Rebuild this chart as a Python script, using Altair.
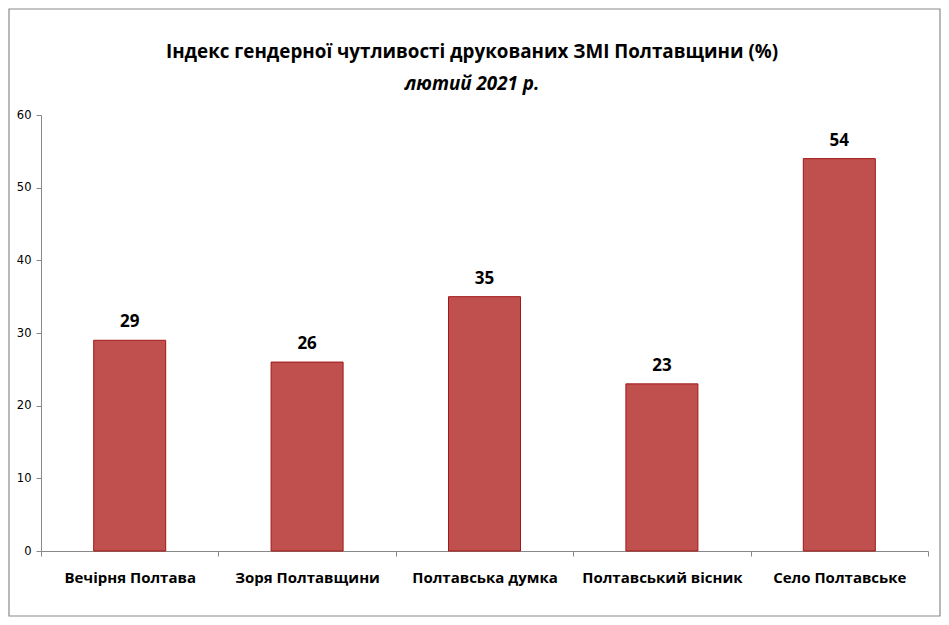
import altair as alt
import pandas as pd

categories = ["Вечірня Полтава", "Зоря Полтавщини", "Полтавська думка", "Полтавський вісник", "Село Полтавське"]
values = [29, 26, 35, 23, 54]
y_ticks = [0, 10, 20, 30, 40, 50, 60]
title_line1 = "Індекс гендерної чутливості друкованих ЗМІ Полтавщини (%)"
title_line2 = "лютий 2021 р."

df = pd.DataFrame({"name": categories, "value": values})
one = pd.DataFrame({"a": [1]})

W, H = 887, 436

x_enc = alt.X("name:N", sort=categories, title=None,
              scale=alt.Scale(paddingInner=0, paddingOuter=0),
              axis=alt.Axis(tickBand="extent", labelAngle=0, labelFont="Open Sans",
                            labelFontWeight="bold", labelFontSize=15, labelColor="#000",
                            labelPadding=14, domainColor="#888", tickColor="#888",
                            tickSize=5, grid=False))
y_enc = alt.Y("value:Q", title=None,
              scale=alt.Scale(domain=[0, 60], nice=False),
              axis=alt.Axis(values=y_ticks, labelFont="DejaVu Sans", labelFontSize=11.5,
                            labelColor="#000", domainColor="#888", tickColor="#888",
                            tickSize=5, labelPadding=5, grid=False))

frame = alt.Chart(one).mark_rect(
    fill=None, stroke="#8a8a8a", strokeWidth=1.2
).encode(x=alt.value(-32), x2=alt.value(W + 12), y=alt.value(-106), y2=alt.value(H + 65))

t1 = alt.Chart(one).mark_text(
    text=title_line1, font="Open Sans", fontSize=18.8, fontWeight="bold", color="#000",
    align="center", baseline="middle"
).encode(x=alt.value(431), y=alt.value(-63))
t2 = alt.Chart(one).mark_text(
    text=title_line2, font="Open Sans", fontSize=18.8, fontWeight="bold", fontStyle="italic",
    color="#000", align="center", baseline="middle"
).encode(x=alt.value(431), y=alt.value(-31))

bars = alt.Chart(df).mark_bar(size=72, color="#C0504D", stroke="#A01818", strokeWidth=1).encode(
    x=x_enc, y=y_enc
)
labels = alt.Chart(df).mark_text(
    baseline="bottom", dy=-9, font="Open Sans", fontWeight="bold", fontSize=17, color="#000"
).encode(x=alt.X("name:N", sort=categories), y="value:Q", text="value:Q")

chart = alt.layer(frame, t1, t2, bars, labels).properties(
    width=W, height=H,
    background="white",
    autosize=alt.AutoSizeParams(type="none"),
    padding={"left": 33, "top": 107, "right": 13, "bottom": 66},
).configure_view(strokeWidth=0, stroke="transparent")

chart.save("out.html", embed_options={"renderer": "svg", "actions": False})
